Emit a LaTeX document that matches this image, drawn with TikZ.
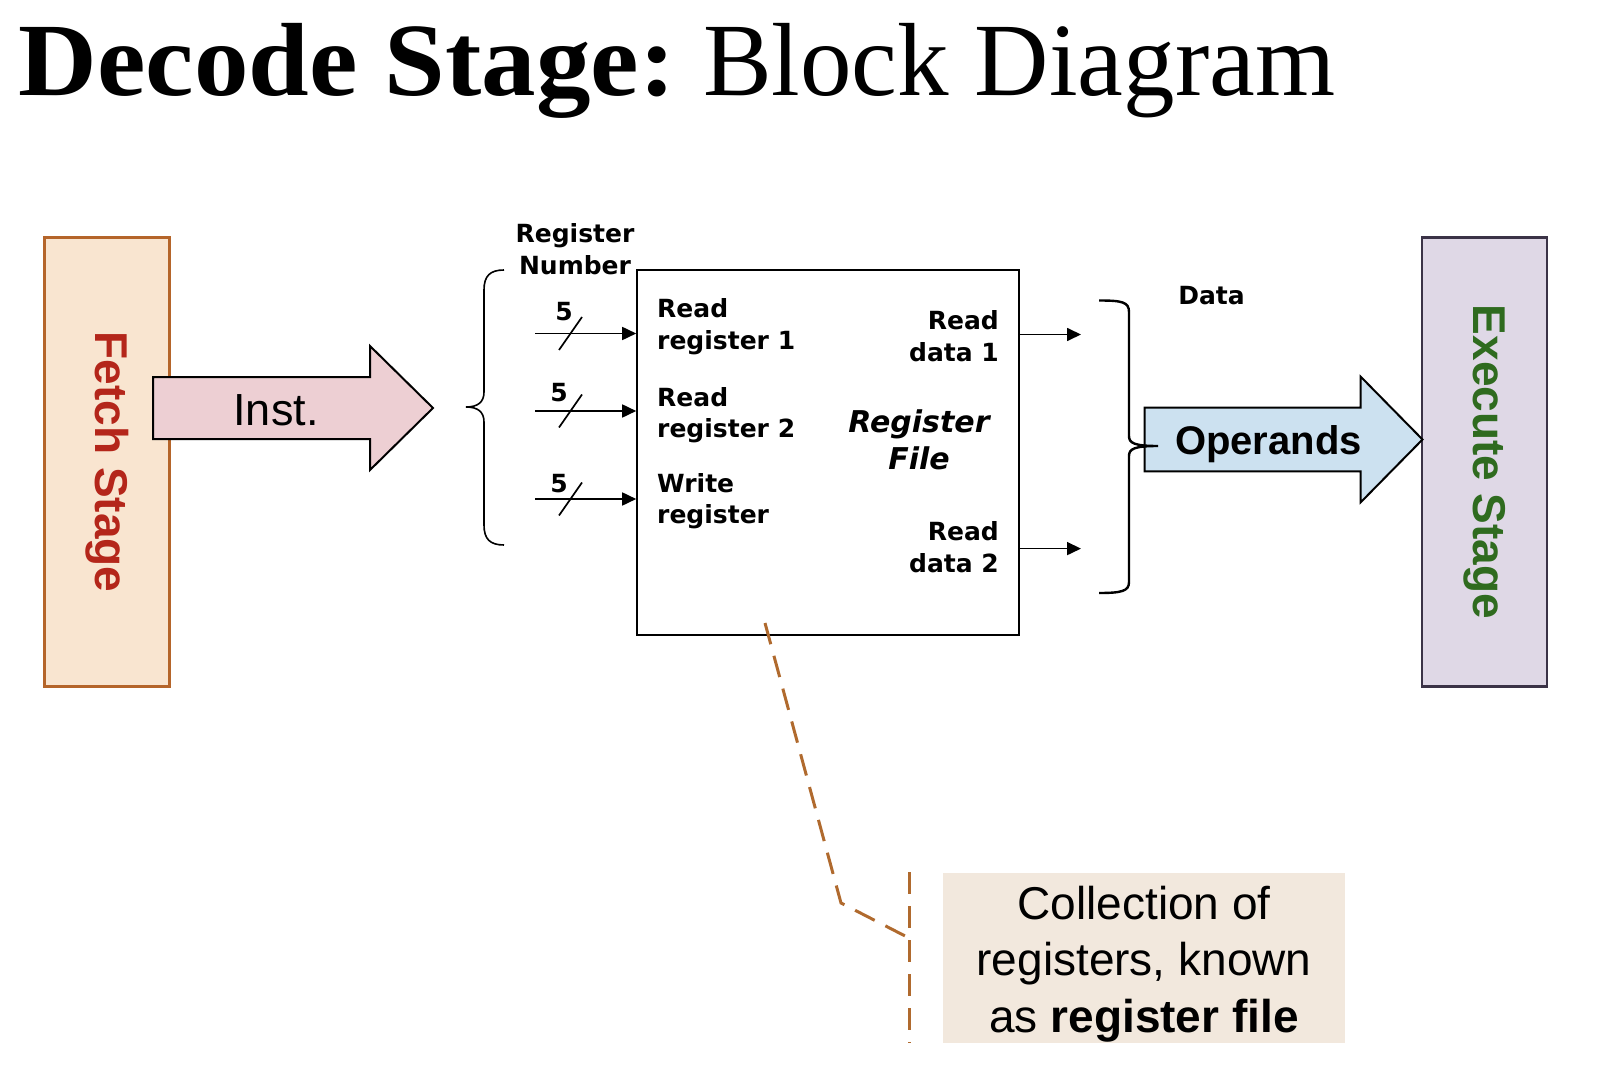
\documentclass[tikz,border=0pt]{standalone}
\usepackage{fontspec}
\setmainfont{Liberation Sans}
\newfontfamily\titlefont{Liberation Serif}
\newfontfamily\verd{DejaVu Sans}
\usetikzlibrary{arrows.meta}
\definecolor{fetchfill}{HTML}{F9E5D0}
\definecolor{fetchline}{HTML}{B5652A}
\definecolor{fetchtext}{HTML}{B4261A}
\definecolor{instfill}{HTML}{EDCFD3}
\definecolor{opfill}{HTML}{CCE1F0}
\definecolor{execfill}{HTML}{DFD8E6}
\definecolor{execline}{HTML}{3B3347}
\definecolor{exectext}{HTML}{2F6B1F}
\definecolor{notefill}{HTML}{F2E8DD}
\definecolor{dashcol}{HTML}{B06A2E}
\begin{document}
\begin{tikzpicture}[x=1pt,y=-1pt,
  stagebox/.style={rotate=-90, minimum width=449pt, minimum height=125pt, line width=2.8pt, inner sep=0pt,
    font=\fontsize{46}{50}\selectfont\bfseries},
  blockarrow/.style={draw=black, line width=2pt, line join=miter},
  sig/.style={line width=1.7pt, -{Triangle[length=14pt,width=13pt]}},
  slash/.style={line width=1.7pt},
  lbl/.style={font=\verd\bfseries\fontsize{25}{31.5}\selectfont, inner sep=0pt},
  brace/.style={line width=1.6pt},
  dashline/.style={draw=dashcol, line width=3pt, dash pattern=on 22pt off 12pt},
]
\useasboundingbox (0,0) rectangle (1614,1086);

% title
\node[anchor=base west, inner sep=0pt, xscale=1.048] (title1) at (18.5,96)
  {\titlefont\fontsize{104}{110}\selectfont\bfseries Decode Stage:};
\node[anchor=base west, inner sep=0pt, xscale=0.99] (title2) at (703,96)
  {\titlefont\fontsize{104}{110}\selectfont Block Diagram};

% stage boxes
\node[stagebox, draw=fetchline, fill=fetchfill, text=fetchtext] (fetch) at (107,462) {Fetch Stage};
\node[stagebox, draw=execline, fill=execfill, text=exectext] (exec) at (1484.5,462) {Execute Stage};

% Inst. arrow
\draw[blockarrow, fill=instfill] (153,377) -- (370,377) -- (370,346) -- (433,408) -- (370,470) -- (370,439) -- (153,439) -- cycle;
\node[font=\fontsize{45}{50}\selectfont] (inst) at (276,410) {Inst.};

% left brace
\draw[brace] (504,270) .. controls (490,270) and (484,276) .. (484,290) -- (484,392)
  .. controls (484,402) and (478,407) .. (466,407)
  .. controls (478,407) and (484,412) .. (484,422) -- (484,525)
  .. controls (484,539) and (490,545) .. (504,545);
\node[lbl, align=center] (regnum) at (575,249) {Register\\Number};

% register file
\node[draw, line width=1.6pt, minimum width=382pt, minimum height=365pt, inner sep=0pt] (rf) at (828,452.5) {};

\coordinate (in1) at (535,333.5);
\coordinate (in2) at (535,411);
\coordinate (in3) at (535,499);
\draw[sig] (in1) -- (in1 -| rf.west);
\draw[sig] (in2) -- (in2 -| rf.west);
\draw[sig] (in3) -- (in3 -| rf.west);
\draw[slash] (559,350) -- (582,317);
\draw[slash] (559,427.5) -- (582,394.5);
\draw[slash] (559,515.5) -- (582,482.5);
\node[lbl] (n1) at (564,312) {5};
\node[lbl] (n2) at (559,393) {5};
\node[lbl] (n3) at (559,484) {5};

\node[lbl, anchor=west, align=left] (rr1) at (657,326.5) {Read\\register 1};
\node[lbl, anchor=west, align=left] (rr2) at (657,415) {Read\\register 2};
\node[lbl, anchor=west, align=left] (wr) at (657,501) {Write\\register};
\node[lbl, anchor=east, align=right] (rd1) at (999,336) {Read\\data 1};
\node[lbl, anchor=east, align=right] (rd2) at (999,547) {Read\\data 2};
\node[font=\verd\bfseries\itshape\fontsize{30}{37}\selectfont, align=center, inner sep=0pt] (rfname) at (919,440) {Register\\File};

\coordinate (o1) at (1081,334.5);
\coordinate (o2) at (1081,548.6);
\draw[sig] (o1 -| rf.east) -- (o1);
\draw[sig] (o2 -| rf.east) -- (o2);

% Operands arrow
\draw[blockarrow, fill=opfill] (1144.6,407.6) -- (1360.7,407.6) -- (1360.7,376.7) -- (1422.5,439.5) -- (1360.7,502.3) -- (1360.7,471.4) -- (1144.6,471.4) -- cycle;
\node[font=\fontsize{40}{44}\selectfont\bfseries] (ops) at (1268.5,444) {Operands};

% right brace
\draw[line width=2.4pt] (1099,300.5) .. controls (1122,300.5) and (1129,302) .. (1129,312) -- (1129,436)
  .. controls (1129,443) and (1134,446) .. (1158,446)
  .. controls (1134,446) and (1129,449) .. (1129,456) -- (1129,582)
  .. controls (1129,591) and (1122,593) .. (1099,593);
\node[lbl] (data) at (1211.5,296) {Data};

% note
\node[fill=notefill, minimum width=402pt, minimum height=170pt, inner sep=0pt] (note) at (1144,958) {};
\node[align=center, inner sep=0pt, font=\fontsize{46}{56.6}\selectfont] (notetext) at ([yshift=-6pt]note.center)
  {Collection of\\registers, known\\as \textbf{register file}};
\coordinate (d0) at (765,623);
\coordinate (d1) at (841,903);
\coordinate (d2) at (909,938);
\coordinate (v0) at (909,872);
\coordinate (v1) at (909,1043);
\draw[dashline] (d0) -- (d1) -- (d2);
\draw[dashline] (v0) -- (v1);
\end{tikzpicture}
\end{document}
